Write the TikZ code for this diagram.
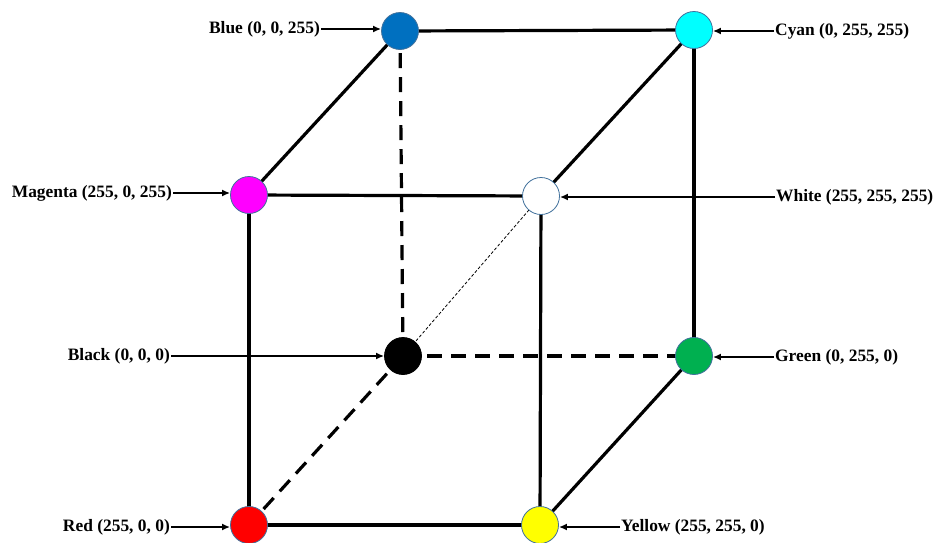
\documentclass[tikz,border=0pt]{standalone}
\usepackage{fontspec}
\setmainfont{Liberation Serif}
\usetikzlibrary{arrows.meta}
\pgfdeclarelayer{back}
\pgfsetlayers{back,main}
\definecolor{cBlue}{RGB}{0,112,192}
\definecolor{cCyan}{RGB}{0,255,255}
\definecolor{cMagenta}{RGB}{255,0,255}
\definecolor{cGreen}{RGB}{0,176,80}
\definecolor{cRed}{RGB}{255,0,0}
\definecolor{cYellow}{RGB}{255,255,0}
\definecolor{rim}{RGB}{65,113,156}
\tikzset{
  vertex/.style={circle, minimum size=37pt, inner sep=0pt, draw=rim, line width=0.8pt},
  edge/.style={line width=3.2pt, black},
  hidden/.style={line width=3.2pt, black, dash pattern=on 15pt off 9pt},
  diag/.style={line width=0.8pt, black, dash pattern=on 3pt off 2pt},
  lbl/.style={font=\fontsize{17.4}{20}\selectfont\bfseries, inner sep=1pt},
  arr/.style={line width=1.6pt, -{Latex[length=8pt,width=7pt]}}
}
\begin{document}
\begin{tikzpicture}[x=1pt,y=-1pt]
\useasboundingbox (0,0) rectangle (938,542);

% cube vertices
\node[vertex, fill=cBlue]    (blue)    at (400,31)  {};
\node[vertex, fill=cCyan]    (cyan)    at (694,30)  {};
\node[vertex, fill=cMagenta] (magenta) at (249,195) {};
\node[vertex, fill=white]    (white)   at (541,196) {};
\node[vertex, fill=black, draw=black] (black) at (403,356) {};
\node[vertex, fill=cGreen]   (green)   at (694,356) {};
\node[vertex, fill=cRed]     (red)     at (249,525) {};
\node[vertex, fill=cYellow]  (yellow)  at (540,525) {};

% white page and cube edges, kept behind the vertices
\begin{pgfonlayer}{back}
\fill[white] (0,0) rectangle (938,542);
\draw[diag] (black.center) -- (white.center);
\draw[hidden] (black.center) -- (blue.center);
\draw[hidden] (black.center) -- (green.center);
\draw[hidden] (black.center) -- (red.center);
\draw[edge] (blue.center) -- (cyan.center);
\draw[edge] (magenta.center) -- (white.center);
\draw[edge] (magenta.center) -- (blue.center);
\draw[edge] (white.center) -- (cyan.center);
\draw[edge] (cyan.center) -- (green.center);
\draw[edge] (magenta.center) -- (red.center);
\draw[edge] (white.center) -- (yellow.center);
\draw[edge] (red.center) -- (yellow.center);
\draw[edge] (yellow.center) -- (green.center);
\end{pgfonlayer}

% labels
\node[lbl, anchor=east] (lblue)    at (321,29)  {Blue (0, 0, 255)};
\node[lbl, anchor=west] (lcyan)    at (774,31)  {Cyan (0, 255, 255)};
\node[lbl, anchor=east] (lmagenta) at (173,193) {Magenta (255, 0, 255)};
\node[lbl, anchor=west] (lwhite)   at (775,197) {White (255, 255, 255)};
\node[lbl, anchor=east] (lblack)   at (171,356) {Black (0, 0, 0)};
\node[lbl, anchor=west] (lgreen)   at (774,357) {Green (0, 255, 0)};
\node[lbl, anchor=east] (lred)     at (171,527) {Red (255, 0, 0)};
\node[lbl, anchor=west] (lyellow)  at (620,527) {Yellow (255, 255, 0)};

% pointers
\draw[arr] (lblue.east)    -- (lblue.east -| blue.west);
\draw[arr] (lcyan.west)    -- (lcyan.west -| cyan.east);
\draw[arr] (lmagenta.east) -- (lmagenta.east -| magenta.west);
\draw[arr] (lwhite.west)   -- (lwhite.west -| white.east);
\draw[arr] (lblack.east)   -- (lblack.east -| black.west);
\draw[arr] (lgreen.west)   -- (lgreen.west -| green.east);
\draw[arr] (lred.east)     -- (lred.east -| red.west);
\draw[arr] (lyellow.west)  -- (lyellow.west -| yellow.east);
\end{tikzpicture}
\end{document}
